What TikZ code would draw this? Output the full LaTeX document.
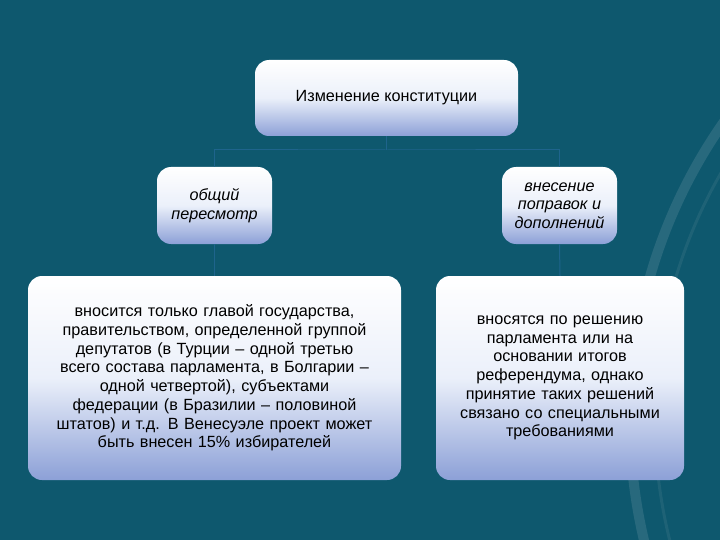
\documentclass[tikz,border=0pt]{standalone}
\usepackage{fontspec}
\setmainfont{Liberation Sans}
\definecolor{bg}{RGB}{14,88,110}
\definecolor{arcA}{RGB}{40,105,125}
\definecolor{arcB}{RGB}{30,98,118}
\definecolor{boxbot}{RGB}{140,160,215}
\definecolor{boxmid}{RGB}{235,240,250}
\definecolor{connc}{RGB}{30,100,140}
\begin{document}
\begin{tikzpicture}[x=1pt,y=-1pt,
  box/.style={rounded corners=14pt, top color=white, bottom color=boxbot, middle color=boxmid, align=center, font=\fontsize{16.2}{18.7}\selectfont, text=black, inner sep=0pt},
  conn/.style={draw=connc, line width=1pt}]
\fill[bg] (0,0) rectangle (720,540);
\useasboundingbox (0,0) rectangle (720,540);
\begin{scope}
\clip (0,0) rectangle (720,540);
\draw[line width=10pt, arcA] (1150,420) circle (520);
\draw[line width=3pt, arcB] (1150,420) circle (495);
\end{scope}
\node[box, minimum width=263pt, minimum height=76pt] (top) at (386.5,98) {Изменение конституции};
\node[box, minimum width=115pt, minimum height=77pt, font=\fontsize{16.2}{18.7}\selectfont\itshape] (l) at (214.5,205.5) {общий\\пересмотр};
\node[box, minimum width=115pt, minimum height=77pt, font=\fontsize{16.2}{18.7}\selectfont\itshape] (r) at (559.5,205.5) {внесение\\поправок и\\дополнений};
\node[box, minimum width=373pt, minimum height=204pt, text width=360pt] (bl) at (214.5,378) {вносится только главой государства,\\правительством, определенной группой\\депутатов (в Турции – одной третью\\всего состава парламента, в Болгарии –\\одной четвертой), субъектами\\федерации (в Бразилии – половиной\\штатов) и т.д. В Венесуэле проект может\\быть внесен 15\% избирателей};
\node[box, minimum width=248pt, minimum height=204pt, text width=240pt] (br) at (560,378) {вносятся по решению\\парламента или на\\основании итогов\\референдума, однако\\принятие таких решений\\связано со специальными\\требованиями};
\coordinate (h) at (386.5,150);
\draw[conn] (top.south) -- (h);
\draw[conn] (l.north) |- (h) -| (r.north);
\draw[conn] (l.south) -- (bl.north);
\draw[conn] (r.south) -- (br.north);
\end{tikzpicture}
\end{document}
